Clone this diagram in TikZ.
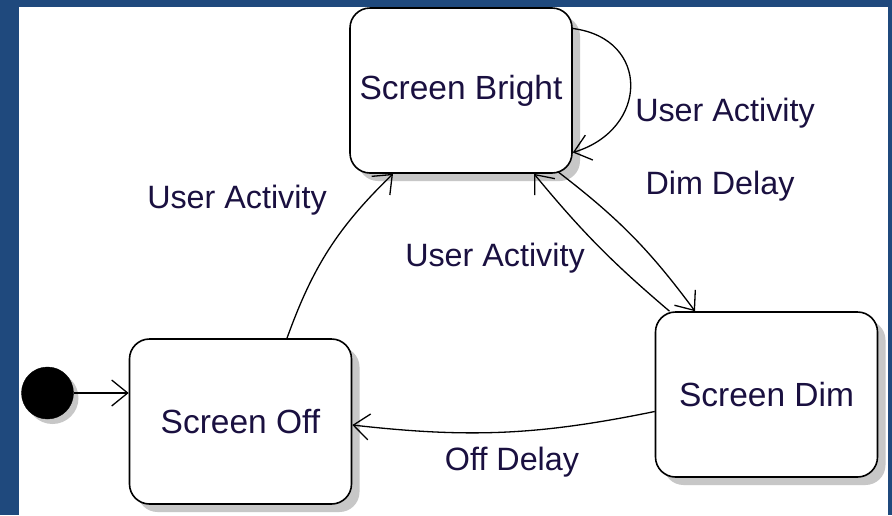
\documentclass[tikz,border=0pt]{standalone}
\usepackage{fontspec}
\setmainfont{Liberation Sans}
\usetikzlibrary{arrows.meta,shadows}
\definecolor{frameblue}{RGB}{31,73,125}
\definecolor{labelink}{RGB}{26,16,64}
\begin{document}
\begin{tikzpicture}[x=1pt,y=-1pt,
  boxshadow/.style={drop shadow={shadow xshift=8pt,shadow yshift=-8pt,fill=black!22,opacity=1}},
  state/.style={draw=black,line width=1.6pt,fill=white,rounded corners=20pt,
    minimum width=222pt,minimum height=165pt,inner sep=0pt,
    font=\fontsize{33.5}{38}\selectfont,text=labelink,boxshadow},
  initialdot/.style={circle,fill=black,draw=black,minimum size=52pt,inner sep=0pt,
    drop shadow={shadow xshift=5pt,shadow yshift=-5pt,fill=black!22,opacity=1}},
  lbl/.style={font=\fontsize{32.3}{37}\selectfont,text=labelink,inner sep=0pt},
  trans/.style={draw=black,line width=1.3pt,-{Straight Barb[length=16pt,width=26pt]}}]
  % frame and canvas
  \useasboundingbox (0,0) rectangle (892,515);
  \fill[frameblue] (0,0) rectangle (892,515);
  \fill[white] (19,7) rectangle (888,515);

  % states
  \node[state] (bright) at (461,90.5) {\raisebox{-3pt}{Screen Bright}};
  \node[state] (off) at (240.5,421.5) {\raisebox{-2pt}{Screen Off}};
  \node[state] (dim) at (766.5,394.5) {\raisebox{-2pt}{Screen Dim}};
  \node[initialdot] (start) at (47.5,393) {};

  % transitions
  \draw[trans] (start.east) -- (start.east -| off.west);
  \draw[trans] ([xshift=46.5pt]off.north) to[bend left=13] ([xshift=-68pt]bright.south);
  \draw[trans] ([xshift=97pt,yshift=2pt]bright.south) to[bend left=8] ([xshift=-71.5pt]dim.north);
  \draw[trans] ([xshift=-97pt]dim.north) to[bend left=5] ([xshift=73pt]bright.south);
  \draw[trans] ([yshift=62pt]bright.east) .. controls +(78,10) and +(76,-23) .. ([yshift=-62pt]bright.east);
  \draw[trans] ([yshift=-17pt]dim.west) to[bend left=9] ([yshift=-3.5pt]off.east);

  % transition labels
  \node[lbl] (lblwake) at (237,200) {User Activity};
  \node[lbl] (lblback) at (495,258) {User Activity};
  \node[lbl] (lblstay) at (725,113) {User Activity};
  \node[lbl] (lbldim) at (720,186) {Dim Delay};
  \node[lbl] (lbloff) at (512,462) {Off Delay};
\end{tikzpicture}
\end{document}
